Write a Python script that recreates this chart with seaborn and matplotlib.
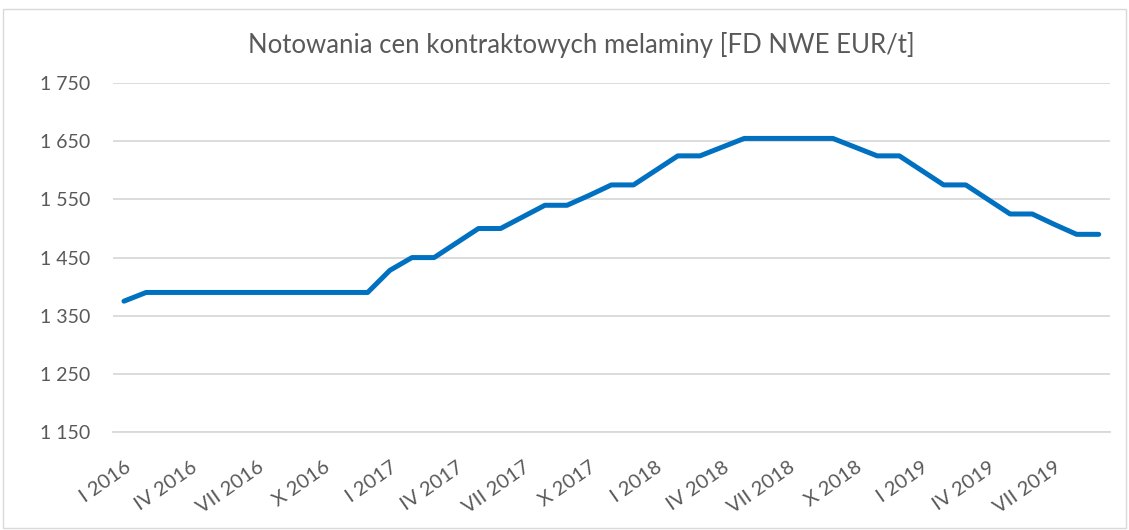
import pandas as pd
import matplotlib.pyplot as plt
import seaborn as sns
from matplotlib.patches import Rectangle

# Dane: miesiące I 2016 - IX 2019
rzymskie = ['I', 'II', 'III', 'IV', 'V', 'VI', 'VII', 'VIII', 'IX', 'X', 'XI', 'XII']
lata = [2016, 2017, 2018, 2019]
miesiace = [f'{m} {r}' for r in lata for m in rzymskie][:45]

ceny = [1375, 1390, 1390, 1390, 1390, 1390, 1390, 1390, 1390, 1390, 1390, 1390,
        1428, 1450, 1450, 1475, 1500, 1500, 1520, 1540, 1540, 1557, 1575, 1575,
        1600, 1625, 1625, 1640, 1655, 1655, 1655, 1655, 1655, 1640, 1625, 1625,
        1600, 1575, 1575, 1550, 1525, 1525, 1507, 1490, 1490]

df = pd.DataFrame({'Miesiac': miesiace, 'Cena': ceny})

sns.set_theme(style="white")
plt.rcParams['font.family'] = ['Lato', 'DejaVu Sans']
szary = '#595959'

fig = plt.figure(figsize=(11.29, 5.30), dpi=100)
ax = fig.add_axes([0.100, 0.185, 0.883, 0.658])

sns.lineplot(x='Miesiac', y='Cena', data=df, sort=False, color='#0070c0',
             linewidth=3.6, ax=ax, solid_capstyle='round', solid_joinstyle='round')

ax.set_xlim(-0.5, len(miesiace) - 0.5)
ax.set_ylim(1150, 1750)
yt = list(range(1150, 1751, 100))
ax.set_yticks(yt)
ax.set_yticklabels([f'{v // 1000} {v % 1000:03d}' for v in yt], color=szary, fontsize=14)
ax.yaxis.grid(True, color='#d9d9d9', linewidth=1.3)
ax.set_axisbelow(True)

pozycje = list(range(0, len(miesiace), 3))
ax.set_xticks(pozycje)
ax.set_xticklabels([miesiace[i] for i in pozycje], rotation=35, ha='right', va='top',
                   rotation_mode='anchor', color=szary, fontsize=14.5)
ax.tick_params(axis='x', length=0, pad=19)
ax.tick_params(axis='y', length=0, pad=16)

for s in ['top', 'right', 'left']:
    ax.spines[s].set_visible(False)
ax.spines['bottom'].set_color('#d9d9d9')
ax.spines['bottom'].set_linewidth(1.3)

ax.set_xlabel('')
ax.set_ylabel('')
fig.text(0.515, 0.915, 'Notowania cen kontraktowych melaminy [FD NWE EUR/t]',
         ha='center', va='center', fontsize=18.5, color=szary)

fig.patches.append(Rectangle((0.003, 0.003), 0.994, 0.98, transform=fig.transFigure,
                             fill=False, edgecolor='#d9d9d9', linewidth=1))

plt.savefig('out.png', dpi=100)
plt.close()
